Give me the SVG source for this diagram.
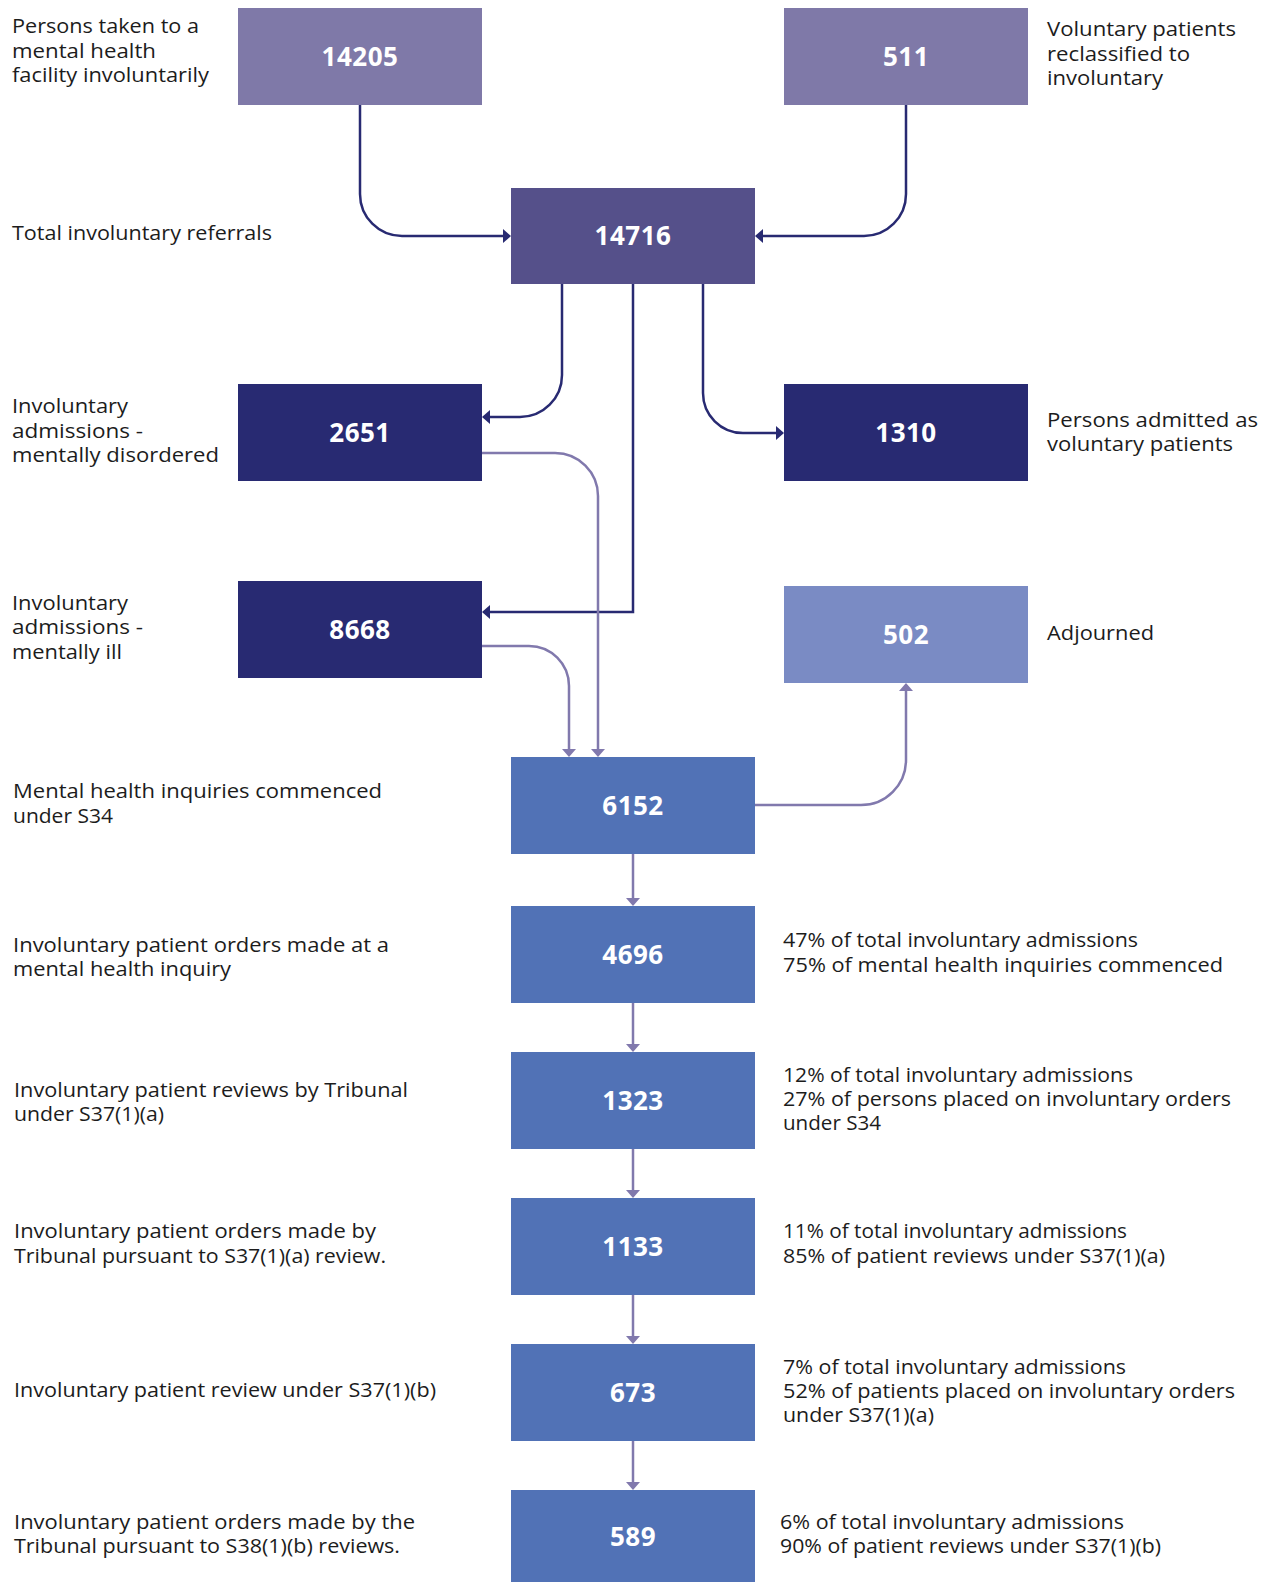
<svg xmlns="http://www.w3.org/2000/svg" width="1270" height="1582" viewBox="0 0 1270 1582">
<style>
.lbl{font-family:"Open Sans","Liberation Sans",sans-serif;font-size:20px;fill:#1c1c1c}
.num{font-family:"Open Sans","Liberation Sans",sans-serif;font-size:26px;font-weight:700;fill:#ffffff;text-anchor:middle;letter-spacing:0.5px}
.c1{fill:#7f79a8}.c2{fill:#55508a}.c3{fill:#282a72}.c4{fill:#7a8bc4}.c5{fill:#5172b6}
.dk{fill:none;stroke:#282a72;stroke-width:2.5}
.lt{fill:none;stroke:#8179ad;stroke-width:2.5}
</style>
<defs>
<marker id="ad" markerUnits="userSpaceOnUse" markerWidth="10" markerHeight="14" refX="6" refY="7" orient="auto"><path d="M0,0 L8,7 L0,14 z" fill="#282a72"/></marker>
<marker id="al" markerUnits="userSpaceOnUse" markerWidth="10" markerHeight="14" refX="6" refY="7" orient="auto"><path d="M0,0 L8,7 L0,14 z" fill="#8179ad"/></marker>
</defs>
<rect width="1270" height="1582" fill="#ffffff"/>
<g id="connectors">
<path class="dk" d="M360,105 V194 A42,42 0 0 0 402,236 H509" marker-end="url(#ad)"/>
<path class="dk" d="M906,105 V194 A42,42 0 0 1 864,236 H757" marker-end="url(#ad)"/>
<path class="dk" d="M562,284 V375 A42,42 0 0 1 520,417 H484" marker-end="url(#ad)"/>
<path class="dk" d="M633,284 V612 H484" marker-end="url(#ad)"/>
<path class="dk" d="M703,284 V393 A40,40 0 0 0 743,433 H782" marker-end="url(#ad)"/>
<path class="lt" d="M482,453 H555 A43,43 0 0 1 598,496 V755" marker-end="url(#al)"/>
<path class="lt" d="M482,646 H529 A40,40 0 0 1 569,686 V755" marker-end="url(#al)"/>
<path class="lt" d="M755,805 H861 A45,45 0 0 0 906,760 V685" marker-end="url(#al)"/>
<path class="lt" d="M633,854 V904" marker-end="url(#al)"/>
<path class="lt" d="M633,1003 V1050" marker-end="url(#al)"/>
<path class="lt" d="M633,1149 V1196" marker-end="url(#al)"/>
<path class="lt" d="M633,1295 V1342" marker-end="url(#al)"/>
<path class="lt" d="M633,1441 V1488" marker-end="url(#al)"/>
</g>
<g id="n14205"><rect class="c1" x="238" y="8" width="244" height="97"/><text class="num" x="360" y="66">14205</text>
<text class="lbl" x="12" y="33" textLength="187" lengthAdjust="spacingAndGlyphs">Persons taken to a</text>
<text class="lbl" x="12" y="58" textLength="144" lengthAdjust="spacingAndGlyphs">mental health</text>
<text class="lbl" x="12" y="82" textLength="197" lengthAdjust="spacingAndGlyphs">facility involuntarily</text></g>
<g id="n511"><rect class="c1" x="784" y="8" width="244" height="97"/><text class="num" x="906" y="66">511</text>
<text class="lbl" x="1047" y="36" textLength="189" lengthAdjust="spacingAndGlyphs">Voluntary patients</text>
<text class="lbl" x="1047" y="61" textLength="143" lengthAdjust="spacingAndGlyphs">reclassified to</text>
<text class="lbl" x="1047" y="85" textLength="116" lengthAdjust="spacingAndGlyphs">involuntary</text></g>
<g id="n14716"><rect class="c2" x="511" y="188" width="244" height="96"/><text class="num" x="633" y="245">14716</text>
<text class="lbl" x="12" y="240" textLength="260" lengthAdjust="spacingAndGlyphs">Total involuntary referrals</text></g>
<g id="n2651"><rect class="c3" x="238" y="384" width="244" height="97"/><text class="num" x="360" y="442">2651</text>
<text class="lbl" x="12" y="413" textLength="116" lengthAdjust="spacingAndGlyphs">Involuntary</text>
<text class="lbl" x="12" y="438" textLength="131" lengthAdjust="spacingAndGlyphs">admissions -</text>
<text class="lbl" x="12" y="462" textLength="207" lengthAdjust="spacingAndGlyphs">mentally disordered</text></g>
<g id="n1310"><rect class="c3" x="784" y="384" width="244" height="97"/><text class="num" x="906" y="442">1310</text>
<text class="lbl" x="1047" y="427" textLength="211" lengthAdjust="spacingAndGlyphs">Persons admitted as</text>
<text class="lbl" x="1047" y="451" textLength="186" lengthAdjust="spacingAndGlyphs">voluntary patients</text></g>
<g id="n8668"><rect class="c3" x="238" y="581" width="244" height="97"/><text class="num" x="360" y="639">8668</text>
<text class="lbl" x="12" y="610" textLength="116" lengthAdjust="spacingAndGlyphs">Involuntary</text>
<text class="lbl" x="12" y="634" textLength="131" lengthAdjust="spacingAndGlyphs">admissions -</text>
<text class="lbl" x="12" y="659" textLength="110" lengthAdjust="spacingAndGlyphs">mentally ill</text></g>
<g id="n502"><rect class="c4" x="784" y="586" width="244" height="97"/><text class="num" x="906" y="644">502</text>
<text class="lbl" x="1047" y="640" textLength="107" lengthAdjust="spacingAndGlyphs">Adjourned</text></g>
<g id="n6152"><rect class="c5" x="511" y="757" width="244" height="97"/><text class="num" x="633" y="815">6152</text>
<text class="lbl" x="13" y="798" textLength="369" lengthAdjust="spacingAndGlyphs">Mental health inquiries commenced</text>
<text class="lbl" x="13" y="823" textLength="100" lengthAdjust="spacingAndGlyphs">under S34</text></g>
<g id="n4696"><rect class="c5" x="511" y="906" width="244" height="97"/><text class="num" x="633" y="964">4696</text>
<text class="lbl" x="13" y="952" textLength="376" lengthAdjust="spacingAndGlyphs">Involuntary patient orders made at a</text>
<text class="lbl" x="13" y="976" textLength="218" lengthAdjust="spacingAndGlyphs">mental health inquiry</text>
<text class="lbl" x="783" y="947" textLength="355" lengthAdjust="spacingAndGlyphs">47% of total involuntary admissions</text>
<text class="lbl" x="783" y="972" textLength="440" lengthAdjust="spacingAndGlyphs">75% of mental health inquiries commenced</text></g>
<g id="n1323"><rect class="c5" x="511" y="1052" width="244" height="97"/><text class="num" x="633" y="1110">1323</text>
<text class="lbl" x="14" y="1097" textLength="394" lengthAdjust="spacingAndGlyphs">Involuntary patient reviews by Tribunal</text>
<text class="lbl" x="14" y="1121" textLength="150" lengthAdjust="spacingAndGlyphs">under S37(1)(a)</text>
<text class="lbl" x="783" y="1082" textLength="350" lengthAdjust="spacingAndGlyphs">12% of total involuntary admissions</text>
<text class="lbl" x="783" y="1106" textLength="448" lengthAdjust="spacingAndGlyphs">27% of persons placed on involuntary orders</text>
<text class="lbl" x="783" y="1130" textLength="98" lengthAdjust="spacingAndGlyphs">under S34</text></g>
<g id="n1133"><rect class="c5" x="511" y="1198" width="244" height="97"/><text class="num" x="633" y="1256">1133</text>
<text class="lbl" x="14" y="1238" textLength="362" lengthAdjust="spacingAndGlyphs">Involuntary patient orders made by</text>
<text class="lbl" x="14" y="1263" textLength="372" lengthAdjust="spacingAndGlyphs">Tribunal pursuant to S37(1)(a) review.</text>
<text class="lbl" x="783" y="1238" textLength="344" lengthAdjust="spacingAndGlyphs">11% of total involuntary admissions</text>
<text class="lbl" x="783" y="1263" textLength="382" lengthAdjust="spacingAndGlyphs">85% of patient reviews under S37(1)(a)</text></g>
<g id="n673"><rect class="c5" x="511" y="1344" width="244" height="97"/><text class="num" x="633" y="1402">673</text>
<text class="lbl" x="14" y="1397" textLength="422" lengthAdjust="spacingAndGlyphs">Involuntary patient review under S37(1)(b)</text>
<text class="lbl" x="783" y="1374" textLength="343" lengthAdjust="spacingAndGlyphs">7% of total involuntary admissions</text>
<text class="lbl" x="783" y="1398" textLength="452" lengthAdjust="spacingAndGlyphs">52% of patients placed on involuntary orders</text>
<text class="lbl" x="783" y="1422" textLength="151" lengthAdjust="spacingAndGlyphs">under S37(1)(a)</text></g>
<g id="n589"><rect class="c5" x="511" y="1490" width="244" height="100"/><text class="num" x="633" y="1546">589</text>
<text class="lbl" x="14" y="1529" textLength="401" lengthAdjust="spacingAndGlyphs">Involuntary patient orders made by the</text>
<text class="lbl" x="14" y="1553" textLength="386" lengthAdjust="spacingAndGlyphs">Tribunal pursuant to S38(1)(b) reviews.</text>
<text class="lbl" x="780" y="1529" textLength="344" lengthAdjust="spacingAndGlyphs">6% of total involuntary admissions</text>
<text class="lbl" x="780" y="1553" textLength="381" lengthAdjust="spacingAndGlyphs">90% of patient reviews under S37(1)(b)</text></g>
</svg>
